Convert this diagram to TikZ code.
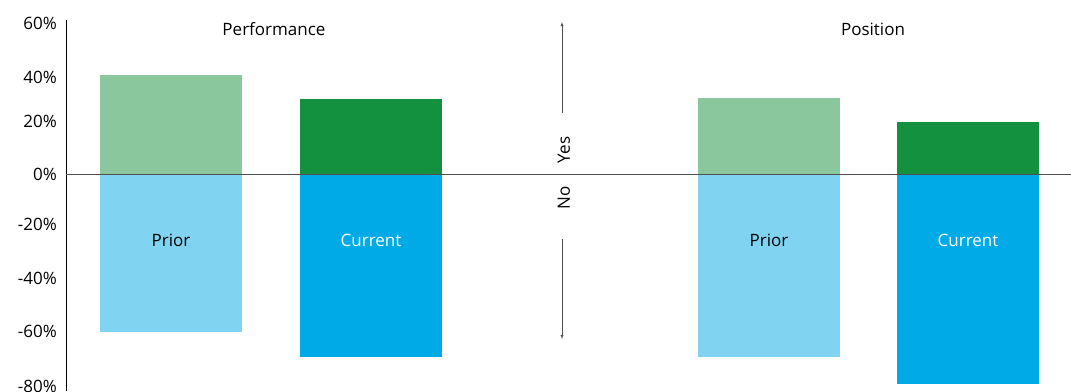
\documentclass[tikz,border=0pt]{standalone}
\usepackage{fontspec}
\setmainfont{Open Sans}
\usetikzlibrary{positioning}
\definecolor{yeslight}{HTML}{8BC79D}
\definecolor{yesdark}{HTML}{14913F}
\definecolor{nolight}{HTML}{81D3F2}
\definecolor{nodark}{HTML}{00AAE6}
\definecolor{zeroline}{HTML}{505050}

\begin{document}
\begin{tikzpicture}[x=1pt, y=-1pt, font=\fontsize{17}{20}\selectfont]
      \useasboundingbox (0,0) rectangle (1071,391);
      % bars: yes part above zero, no part below
      \fill[yeslight] (100,75) rectangle (242,174);
      \fill[nolight] (100,174) rectangle (242,332);
      \fill[yesdark] (300,99) rectangle (442,174);
      \fill[nodark] (300,174) rectangle (442,357);
      \fill[yeslight] (698,98) rectangle (840,174);
      \fill[nolight] (698,174) rectangle (840,357);
      \fill[yesdark] (897,122) rectangle (1039,174);
      \fill[nodark] (897,174) rectangle (1039,384);
      % axes
      \draw[thick] (66,20) -- (66,391);
      \draw[zeroline, thick] (66,174) -- (1071,174);
      \foreach \p/\y in {60/23, 40/77, 20/121, 0/174, -20/224, -40/278, -60/331, -80/386}
      \node[anchor=east, inner sep=0pt] (tick\p) at (57,\y) {\p\%};
      \node (perftitle) at (274,29) {Performance};
      \node (postitle) at (873,29) {Position};
      \node (perfprior) at (171,240) {Prior};
      \node[text=white] (perfcurrent) at (371,240) {Current};
      \node (posprior) at (769,240) {Prior};
      \node[text=white] (poscurrent) at (968,240) {Current};
      % yes / no arrows
      \node[rotate=90] (yes) at (564,150) {Yes};
      \node[rotate=90] (no) at (564,198) {No};
      \coordinate (yesfrom) at (562,113);
      \coordinate (yesto) at (562,22);
      \coordinate (nofrom) at (562,239);
      \coordinate (noto) at (562,339);
      \draw[-latex, zeroline] (yesfrom) -- (yesto);
      \draw[-latex, zeroline] (nofrom) -- (noto);
    \end{tikzpicture}
\end{document}
